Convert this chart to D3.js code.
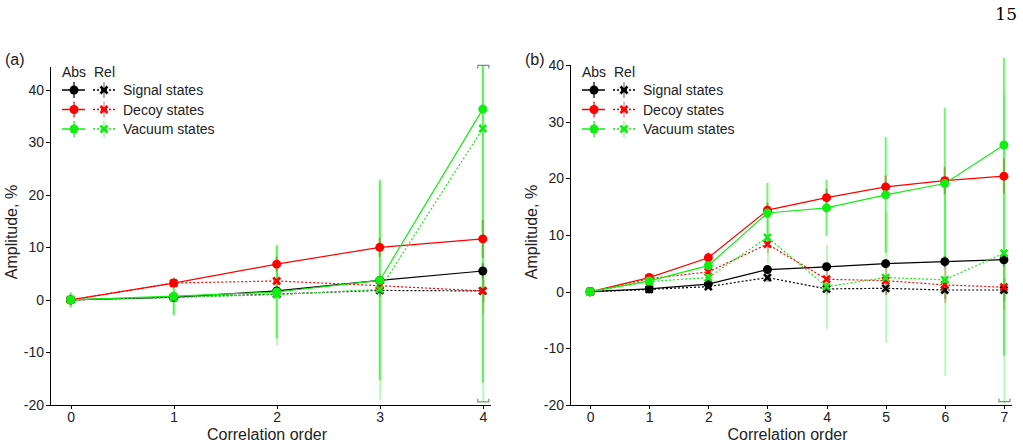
<!DOCTYPE html>
<meta charset="utf-8">
<style>
body { margin: 0; background: #fff; font: 14px "Liberation Sans", Arial, sans-serif; }
.axis path, .axis line { fill: none; stroke: #000; stroke-width: 1; shape-rendering: crispEdges; }
.axis text { font: 14px "Liberation Sans", Arial, sans-serif; fill: #222; }
.lbl { font: 16px "Liberation Sans", Arial, sans-serif; fill: #222; }
.leg { font: 14px "Liberation Sans", Arial, sans-serif; fill: #222; }
</style>
<body>
<script src="https://d3js.org/d3.v7.min.js"></script>
<script>
// correlation orders
var ordersA = [0, 1, 2, 3, 4];
var ordersB = [0, 1, 2, 3, 4, 5, 6, 7];
var yTicks = [-20, -10, 0, 10, 20, 30, 40];

// panel (a) values, %
var aSigAbs = [0, 0.5, 1.7, 3.7, 5.5],      aSigAbsErr = [0.3, 0.4, 0.6, 0.8, 1.5];
var aSigRel = [0, 0.5, 1.1, 1.8, 1.7],      aSigRelErr = [0.3, 0.4, 0.7, 1.0, 2.2];
var aDecAbs = [0, 3.2, 6.8, 10.0, 11.6],    aDecAbsErr = [0.4, 0.8, 1.4, 1.8, 3.6];
var aDecRel = [0, 3.2, 3.6, 2.7, 1.7],      aDecRelErr = [0.4, 1.0, 1.6, 2.2, 4.2];
var aVacAbs = [0, 0.7, 1.5, 3.7, 36.3],     aVacAbsErr = [1.4, 3.5, 8.8, 19.0, 52];
var aVacRel = [0, 0.5, 1.0, 2.0, 32.6],     aVacRelErr = [1.4, 3.5, 9.6, 21.0, 52];

// panel (b) values, %
var bSigAbs = [0, 0.5, 1.35, 3.9, 4.4, 4.95, 5.3, 5.65], bSigAbsErr = [0.2, 0.3, 0.4, 0.6, 0.7, 0.8, 1.0, 1.2];
var bSigRel = [0, 0.4, 0.9, 2.5, 0.5, 0.6, 0.3, 0.3],     bSigRelErr = [0.2, 0.3, 0.5, 0.8, 1.0, 1.2, 1.6, 2.0];
var bDecAbs = [0, 2.5, 6.0, 14.4, 16.6, 18.5, 19.6, 20.4], bDecAbsErr = [0.3, 0.6, 0.9, 1.3, 1.6, 2.0, 2.4, 3.1];
var bDecRel = [0, 2.3, 3.5, 8.4, 2.2, 1.95, 1.2, 0.8],    bDecRelErr = [0.3, 0.7, 1.1, 1.6, 2.0, 2.5, 3.2, 4.0];
var bVacAbs = [0, 1.9, 4.6, 13.9, 14.8, 17.1, 19.1, 25.9], bVacAbsErr = [0.3, 0.8, 1.6, 5.3, 5.0, 10.2, 13.4, 37.2];
var bVacRel = [0, 1.8, 2.5, 9.6, 0.9, 2.5, 2.1, 6.8],     bVacRelErr = [0.3, 1.0, 1.6, 4.6, 7.4, 11.5, 17.0, 28.0];

var seriesNames = ["Signal states", "Decoy states", "Vacuum states"];
var colors = ["#000000", "#ff0000", "#11ee11"];

var svg = d3.select("body").append("svg")
    .attr("width", 1023)
    .attr("height", 447);

// page number
svg.append("text")
    .attr("x", 1017).attr("y", 20)
    .attr("text-anchor", "end")
    .style("font", "17px 'DejaVu Serif', 'Liberation Serif', serif")
    .text("15");

function pack(xs, vals, errs) {
    return xs.map(function(o, i) { return {o: o, v: vals[i], e: errs[i]}; });
}

// plain hyphen for negatives, like the original
var fmt = function(d) { return String(d); };

function drawPanel(p) {
    var x = d3.scaleLinear().domain(p.xDomain).range([p.left, p.right]);
    var y = d3.scaleLinear().domain(p.yDomain).range([405, p.top]);
    var g = svg.append("g");

    g.append("clipPath").attr("id", p.id + "clip")
      .append("rect")
        .attr("x", p.left).attr("y", p.clipTop)
        .attr("width", p.right - p.left).attr("height", 405 - p.clipTop);

    // axes
    g.append("g")
        .attr("class", "axis")
        .attr("transform", "translate(0,405)")
        .call(d3.axisBottom(x).tickValues(p.orders).tickFormat(fmt)
            .tickSize(4).tickSizeOuter(0).tickPadding(3));
    g.append("g")
        .attr("class", "axis")
        .attr("transform", "translate(" + p.left + ",0)")
        .call(d3.axisLeft(y).tickValues(yTicks).tickFormat(fmt)
            .tickSize(4).tickSizeOuter(0).tickPadding(2));

    g.append("text").attr("class", "lbl")
        .attr("x", (p.left + p.right) / 2 - 3).attr("y", 440)
        .attr("text-anchor", "middle").text("Correlation order");
    g.append("text").attr("class", "lbl")
        .attr("transform", "translate(" + (p.left - 33) + ",232) rotate(-90)")
        .attr("text-anchor", "middle").text("Amplitude, %");
    g.append("text").attr("class", "lbl")
        .attr("x", p.left - 45).attr("y", 65).text(p.label);

    var plot = g.append("g").attr("clip-path", "url(#" + p.id + "clip)");

    var line = d3.line()
        .x(function(d) { return x(d.o); })
        .y(function(d) { return y(d.v); });

    p.series.forEach(function(s, k) {
        var col = colors[k];
        var abs = pack(p.orders, s.abs, s.absErr);
        var rel = pack(p.orders, s.rel, s.relErr);

        // error bars
        plot.selectAll(null).data(rel).enter().append("line")
            .attr("x1", function(d) { return x(d.o) + 0.5; })
            .attr("x2", function(d) { return x(d.o) + 0.5; })
            .attr("y1", function(d) { return y(d.v - d.e); })
            .attr("y2", function(d) { return y(d.v + d.e); })
            .attr("stroke", col).attr("stroke-width", 2).attr("stroke-opacity", 0.3);
        plot.selectAll(null).data(abs).enter().append("line")
            .attr("x1", function(d) { return x(d.o); })
            .attr("x2", function(d) { return x(d.o); })
            .attr("y1", function(d) { return y(d.v - d.e); })
            .attr("y2", function(d) { return y(d.v + d.e); })
            .attr("stroke", col).attr("stroke-width", 2).attr("stroke-opacity", 0.6);

        plot.append("path")
            .attr("d", line(rel))
            .attr("fill", "none").attr("stroke", col)
            .attr("stroke-width", 1.2).attr("stroke-dasharray", "2,2");
        plot.append("path")
            .attr("d", line(abs))
            .attr("fill", "none").attr("stroke", col).attr("stroke-width", 1.2);
    });

    // markers on top
    p.series.forEach(function(s, k) {
        var col = colors[k];
        var abs = pack(p.orders, s.abs, s.absErr);
        var rel = pack(p.orders, s.rel, s.relErr);
        plot.selectAll(null).data(rel).enter().append("path")
            .attr("transform", function(d) { return "translate(" + x(d.o) + "," + y(d.v) + ")"; })
            .attr("d", "M-3.5,-3.5L3.5,3.5M-3.5,3.5L3.5,-3.5")
            .attr("stroke", col).attr("stroke-width", 2.6);
        plot.selectAll(null).data(abs).enter().append("circle")
            .attr("cx", function(d) { return x(d.o); })
            .attr("cy", function(d) { return y(d.v); })
            .attr("r", 4.5).attr("fill", col);
    });

    // grey caps of the clipped error bar
    p.caps.forEach(function(c) {
        var cx = x(c.o), cy = y(c.v), d = c.up ? 3 : -3;
        g.append("path")
            .attr("d", "M" + (cx - 5) + "," + (cy + d) + "V" + cy + "H" + (cx + 6) + "V" + (cy + d))
            .attr("fill", "none").attr("stroke", "#888").attr("stroke-width", 1.2);
    });

    // legend
    var lx = p.left + 12;
    g.append("text").attr("class", "leg").attr("x", lx).attr("y", 77).text("Abs");
    g.append("text").attr("class", "leg").attr("x", lx + 32).attr("y", 77).text("Rel");
    seriesNames.forEach(function(name, k) {
        var ly = 90 + k * 19.5, col = colors[k];
        var leg = g.append("g");
        leg.append("line").attr("x1", lx).attr("x2", lx + 23).attr("y1", ly).attr("y2", ly)
            .attr("stroke", col).attr("stroke-width", 1.5);
        leg.append("line").attr("x1", lx + 12).attr("x2", lx + 12).attr("y1", ly - 8).attr("y2", ly + 8)
            .attr("stroke", col).attr("stroke-width", 2).attr("stroke-opacity", 0.6);
        leg.append("circle").attr("cx", lx + 12).attr("cy", ly).attr("r", 4.5).attr("fill", col);
        leg.append("line").attr("x1", lx + 31).attr("x2", lx + 53).attr("y1", ly).attr("y2", ly)
            .attr("stroke", col).attr("stroke-width", 1.5).attr("stroke-dasharray", "2,2");
        leg.append("line").attr("x1", lx + 42).attr("x2", lx + 42).attr("y1", ly - 8).attr("y2", ly + 8)
            .attr("stroke", col).attr("stroke-width", 2).attr("stroke-opacity", 0.3);
        leg.append("path").attr("transform", "translate(" + (lx + 42) + "," + ly + ")")
            .attr("d", "M-3.5,-3.5L3.5,3.5M-3.5,3.5L3.5,-3.5")
            .attr("stroke", col).attr("stroke-width", 2.6);
        leg.append("text").attr("class", "leg").attr("x", lx + 61).attr("y", ly + 5).text(name);
    });
}

drawPanel({
    id: "a", label: "(a)", left: 50, right: 490, top: 66, clipTop: 65,
    xDomain: [-0.2, 4.07], yDomain: [-20, 44.5], orders: ordersA,
    series: [
        {abs: aSigAbs, absErr: aSigAbsErr, rel: aSigRel, relErr: aSigRelErr},
        {abs: aDecAbs, absErr: aDecAbsErr, rel: aDecRel, relErr: aDecRelErr},
        {abs: aVacAbs, absErr: aVacAbsErr, rel: aVacRel, relErr: aVacRelErr}
    ],
    caps: [{o: 4, v: 44.6, up: true}, {o: 4, v: -19.4, up: false}]
});

drawPanel({
    id: "b", label: "(b)", left: 570, right: 1011, top: 64, clipTop: 58,
    xDomain: [-0.34, 7.12], yDomain: [-20, 40.2], orders: ordersB,
    series: [
        {abs: bSigAbs, absErr: bSigAbsErr, rel: bSigRel, relErr: bSigRelErr},
        {abs: bDecAbs, absErr: bDecAbsErr, rel: bDecRel, relErr: bDecRelErr},
        {abs: bVacAbs, absErr: bVacAbsErr, rel: bVacRel, relErr: bVacRelErr}
    ],
    caps: [{o: 7, v: -19.4, up: false}]
});
</script>
</body>
